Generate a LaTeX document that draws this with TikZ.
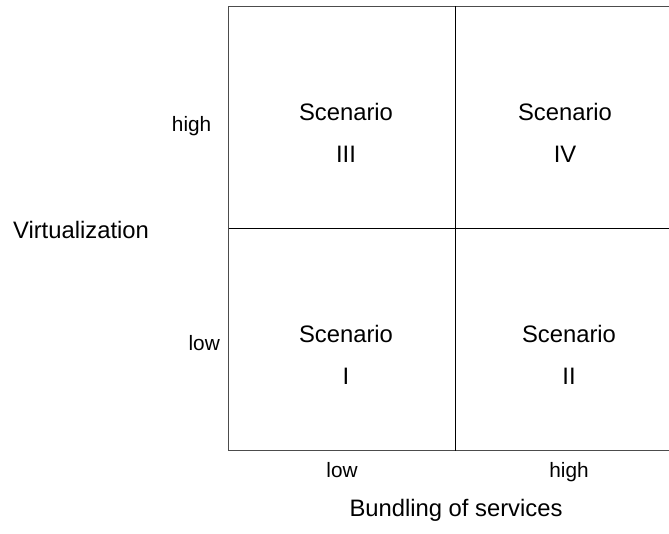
\documentclass[tikz,border=0pt]{standalone}
\usepackage{fontspec}
\setmainfont{Liberation Sans}
\begin{document}
\begin{tikzpicture}[x=1pt,y=-1pt,
  big/.style={anchor=base,inner sep=0pt,font=\fontsize{23.8}{28}\selectfont},
  small/.style={anchor=base,inner sep=0pt,font=\fontsize{20.8}{24}\selectfont},
  outer/.style={draw=black!70,line width=1pt},
  inner/.style={draw=black,line width=1pt}]
\useasboundingbox (0,0) rectangle (669,533);
\clip (0,0) rectangle (669,533);
\coordinate (tl) at (228.7,6);
\coordinate (br) at (682,450.7);
\coordinate (mt) at (455.3,6);
\coordinate (mb) at (455.3,450.7);
\coordinate (ml) at (228.7,228.7);
\coordinate (mr) at (682,228.7);
\draw[outer] (tl) rectangle (br);
\draw[inner] (mt) -- (mb);
\draw[inner] (ml) -- (mr);
\node[big] (s3) at (346,120) {Scenario};
\node[big] (n3) at (346,162.3) {III};
\node[big] (s4) at (565,120) {Scenario};
\node[big] (n4) at (565,162.3) {IV};
\node[big] (s1) at (346,342.7) {Scenario};
\node[big] (n1) at (346,384.3) {I};
\node[big] (s2) at (569,342.7) {Scenario};
\node[big] (n2) at (569,384.3) {II};
\node[small] (xlow) at (342,477.3) {low};
\node[small] (xhigh) at (569,477.3) {high};
\node[big] (xlab) at (456,516) {Bundling of services};
\node[small,anchor=base east] (yhigh) at (211.5,131.7) {high};
\node[small,anchor=base east] (ylow) at (220,350) {low};
\node[big] (ylab) at (81,238.3) {Virtualization};
\end{tikzpicture}
\end{document}
